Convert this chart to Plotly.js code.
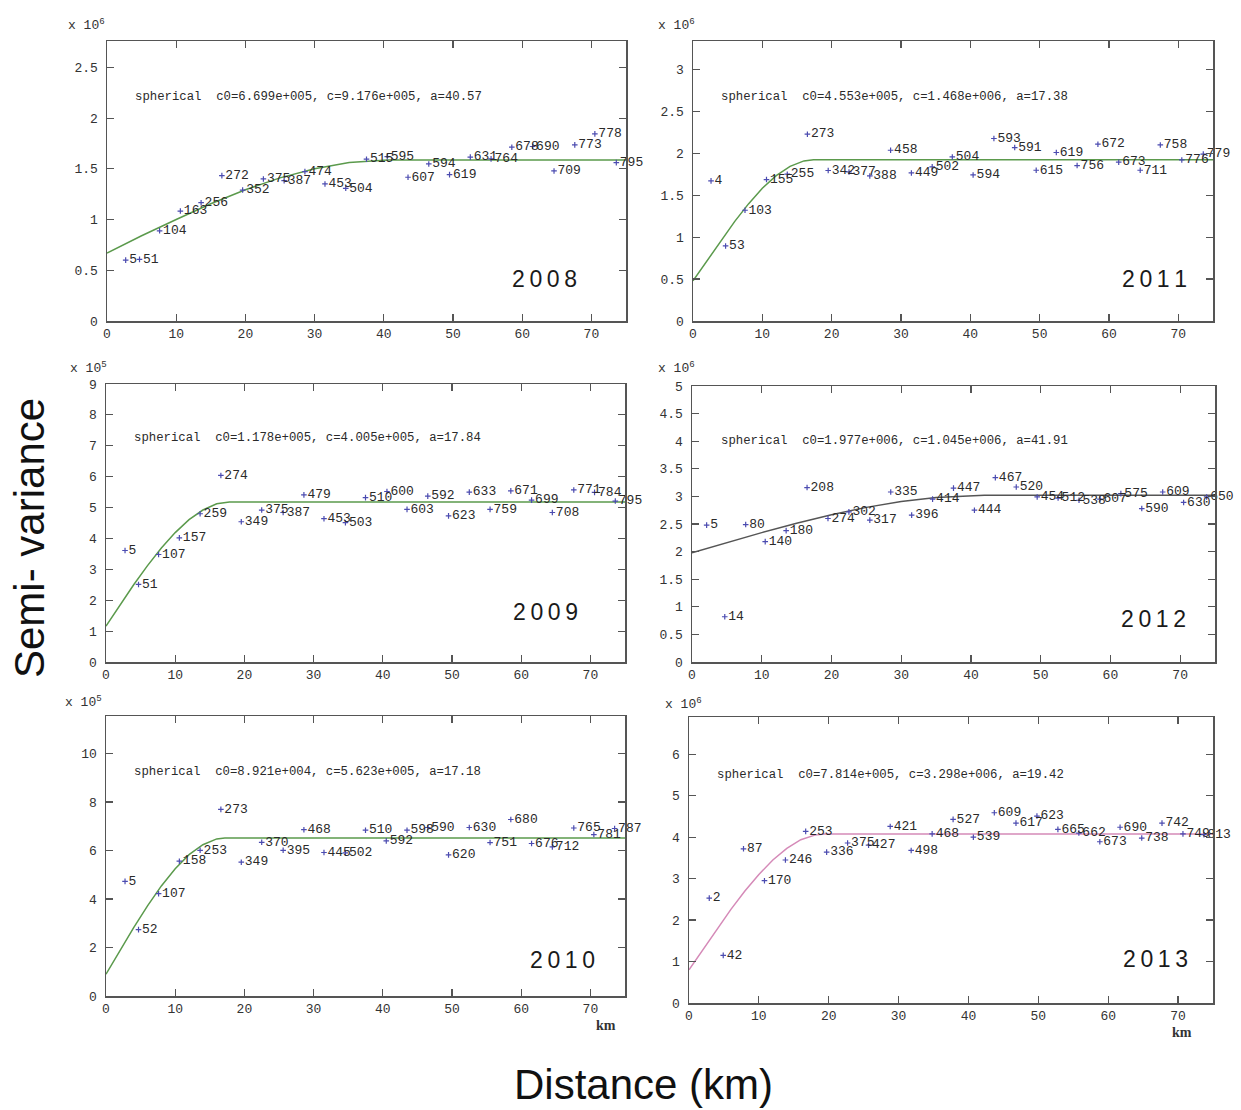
<!DOCTYPE html>
<html><head><meta charset="utf-8">
<script src="https://cdn.plot.ly/plotly-3.0.1.min.js"></script>
<style>html,body{margin:0;padding:0;background:#fff;} #chart{width:1241px;height:1110px;}</style>
</head><body><div id="chart"></div>
<script>
// ---------- DATA ----------
const years = ['2008','2011','2009','2012','2010','2013'];

const dist2008  = [2.7,4.7,7.6,10.6,13.6,16.6,19.6,22.6,25.6,28.6,31.5,34.5,37.5,40.5,43.5,46.5,49.5,52.5,55.5,58.5,61.5,64.6,67.6,70.5,73.6];
const gamma2008 = [0.60,0.607,0.889,1.084,1.166,1.433,1.291,1.40,1.383,1.472,1.351,1.308,1.595,1.62,1.417,1.548,1.443,1.615,1.598,1.713,1.72,1.479,1.736,1.845,1.561];
const pairs2008 = [5,51,104,163,256,272,352,375,387,474,453,504,515,595,607,594,619,631,764,678,690,709,773,778,795];
const fitX2008  = [0,5,10,15,20,25,30,35,40.57,75];
const fitY2008  = [0.67,0.84,1.0,1.156,1.294,1.411,1.50,1.563,1.588,1.588];

const dist2011  = [2.6,4.7,7.5,10.6,13.6,16.5,19.5,22.5,25.5,28.5,31.5,34.5,37.4,40.4,43.4,46.4,49.5,52.4,55.4,58.4,61.4,64.5,67.4,70.5,73.6];
const gamma2011 = [1.671,0.895,1.321,1.687,1.751,2.228,1.795,1.778,1.730,2.037,1.766,1.838,1.957,1.742,2.177,2.069,1.798,2.010,1.854,2.109,1.894,1.798,2.100,1.921,1.99];
const pairs2011 = [4,53,103,155,255,273,342,377,388,458,449,502,504,594,593,591,615,619,756,672,673,711,758,776,779];
const fitX2011  = [0,2,4,6,8,10,12,14,16,17.38,75];
const fitY2011  = [0.48,0.71,0.95,1.185,1.397,1.583,1.734,1.845,1.910,1.923,1.923];

const dist2009  = [2.75,4.7,7.6,10.6,13.6,16.6,19.55,22.5,25.6,28.6,31.5,34.6,37.5,40.6,43.5,46.5,49.5,52.5,55.5,58.5,61.5,64.5,67.6,70.6,73.6];
const gamma2009 = [3.61,2.51,3.48,4.02,4.80,6.04,4.54,4.92,4.84,5.41,4.64,4.51,5.32,5.52,4.94,5.37,4.73,5.50,4.94,5.54,5.24,4.84,5.57,5.49,5.21];
const pairs2009 = [5,51,107,157,259,274,349,375,387,479,453,503,510,600,603,592,623,633,759,671,699,708,771,784,795];
const fitX2009  = [0,2,4,6,8,10,12,14,16,17.84,75];
const fitY2009  = [1.16,1.85,2.50,3.12,3.69,4.19,4.61,4.92,5.12,5.18,5.18];

const dist2012  = [2.1,4.7,7.7,10.5,13.5,16.5,19.5,22.5,25.5,28.5,31.5,34.5,37.5,40.5,43.5,46.5,49.5,52.5,55.5,58.5,61.5,64.5,67.5,70.5,73.8];
const gamma2012 = [2.48,0.82,2.49,2.18,2.38,3.16,2.60,2.72,2.57,3.08,2.66,2.95,3.15,2.75,3.34,3.17,2.99,2.97,2.93,2.95,3.05,2.78,3.08,2.89,2.99];
const pairs2012 = [5,14,80,140,180,208,274,302,317,335,396,414,447,444,467,520,454,512,538,607,575,590,609,630,650];
const fitX2012  = [0,5,10,15,20,25,30,35,41.91,75];
const fitY2012  = [1.977,2.163,2.344,2.514,2.668,2.801,2.907,2.982,3.022,3.022];

const dist2010  = [2.75,4.7,7.6,10.6,13.6,16.6,19.55,22.5,25.6,28.6,31.5,34.6,37.5,40.5,43.5,46.5,49.5,52.5,55.5,58.5,61.5,64.5,67.6,70.5,73.5];
const gamma2010 = [4.73,2.74,4.22,5.56,6.01,7.70,5.52,6.34,6.01,6.86,5.92,5.90,6.84,6.40,6.84,6.95,5.82,6.95,6.33,7.28,6.29,6.15,6.93,6.66,6.91];
const pairs2010 = [5,52,107,158,253,273,349,370,395,468,445,502,510,592,598,590,620,630,751,680,676,712,765,781,787];
const fitX2010  = [0,2,4,6,8,10,12,14,16,17.18,75];
const fitY2010  = [0.90,1.87,2.82,3.72,4.54,5.25,5.83,6.24,6.48,6.52,6.52];

const dist2013  = [2.9,4.9,7.8,10.8,13.8,16.7,19.7,22.7,25.7,28.8,31.8,34.8,37.8,40.7,43.7,46.8,49.8,52.8,55.8,58.8,61.7,64.8,67.7,70.7,73.7];
const gamma2013 = [2.53,1.15,3.72,2.95,3.45,4.14,3.64,3.86,3.81,4.26,3.68,4.08,4.43,4.00,4.59,4.34,4.51,4.19,4.10,3.89,4.24,3.98,4.34,4.08,4.06];
const pairs2013 = [2,42,87,170,246,253,336,375,427,421,498,468,527,539,609,617,623,665,662,673,690,738,742,749,813];
const fitX2013  = [0,2,4,6,8,10,12,14,16,18,19.42,75];
const fitY2013  = [0.80,1.29,1.79,2.26,2.70,3.10,3.45,3.73,3.94,4.05,4.08,4.08];

const modelText = [
  'spherical  c0=6.699e+005, c=9.176e+005, a=40.57',
  'spherical  c0=4.553e+005, c=1.468e+006, a=17.38',
  'spherical  c0=1.178e+005, c=4.005e+005, a=17.84',
  'spherical  c0=1.977e+006, c=1.045e+006, a=41.91',
  'spherical  c0=8.921e+004, c=5.623e+005, a=17.18',
  'spherical  c0=7.814e+005, c=3.298e+006, a=19.42'
];
const exponents = [6, 6, 5, 6, 5, 6];
const yMax  = [2.76, 3.34, 9, 5, 11.55, 6.9];
const yStep = [0.5, 0.5, 1, 0.5, 2, 1];

// ---------- LAYOUT GEOMETRY (pixels) ----------
const W = 1241, H = 1110;
const boxes = [ // [left, right, top, bottom]
  [107, 626, 41, 321],
  [693, 1213, 41, 321],
  [106, 625, 384, 662],
  [692, 1215, 386, 662],
  [106, 625, 716, 996],
  [689, 1213, 717, 1003]
];
const modelPos = [[133,97],[719,97],[132,438],[719,441],[132,772],[715,775]];
const yearPos  = [[510,279],[1120,279],[511,612],[1119,619],[528,960],[1121,959]];
const expPos   = [[66,24],[656,24],[68,368],[656,368],[63,701],[663,703]];
const lineColors = ['#5b9a4c','#5b9a4c','#5b9a4c','#555555','#5b9a4c','#d58ab8'];

const series = [
  [dist2008, gamma2008, pairs2008, fitX2008, fitY2008],
  [dist2011, gamma2011, pairs2011, fitX2011, fitY2011],
  [dist2009, gamma2009, pairs2009, fitX2009, fitY2009],
  [dist2012, gamma2012, pairs2012, fitX2012, fitY2012],
  [dist2010, gamma2010, pairs2010, fitX2010, fitY2010],
  [dist2013, gamma2013, pairs2013, fitX2013, fitY2013]
];

const MONO = 'Liberation Mono, DejaVu Sans Mono, monospace';
const SANS = 'Liberation Sans, Arial, sans-serif';
const px = x => x / W;
const py = y => 1 - y / H;

const traces = [];
const layout = {
  width: W, height: H,
  margin: {l:0, r:0, t:0, b:0},
  paper_bgcolor: '#ffffff', plot_bgcolor: '#ffffff',
  showlegend: false,
  annotations: []
};

series.forEach((s, i) => {
  const n = i + 1;
  const xa = n === 1 ? 'x' : 'x' + n;
  const ya = n === 1 ? 'y' : 'y' + n;
  const b = boxes[i];
  const common = {
    ticks: 'inside', ticklen: 7, tickwidth: 1.2, tickcolor: '#555',
    showline: true, linecolor: '#555', linewidth: 1.5, mirror: 'ticks',
    showgrid: false, zeroline: false,
    tickfont: {family: MONO, size: 13, color: '#333'}
  };
  layout['xaxis' + (n === 1 ? '' : n)] = Object.assign({}, common, {
    domain: [px(b[0]), px(b[1])], range: [0, 75], tick0: 0, dtick: 10,
    anchor: ya, ticklabelstandoff: 0
  });
  layout['yaxis' + (n === 1 ? '' : n)] = Object.assign({}, common, {
    domain: [py(b[3]), py(b[2])], range: [0, yMax[i]], tick0: 0, dtick: yStep[i],
    anchor: xa, ticklabelstandoff: 5
  });

  traces.push({
    type: 'scatter', mode: 'lines', x: s[3], y: s[4], xaxis: xa, yaxis: ya,
    line: {color: lineColors[i], width: 1.5}, hoverinfo: 'skip'
  });
  traces.push({
    type: 'scatter', mode: 'markers+text', x: s[0], y: s[1], text: s[2].map(String),
    textposition: 'middle right', cliponaxis: false,
    textfont: {family: MONO, size: 13, color: '#2a2a2a'},
    marker: {symbol: 'cross-thin', size: 4, color: '#4b4bb0', line: {color: '#4b4bb0', width: 1.2}},
    xaxis: xa, yaxis: ya
  });

  layout.annotations.push({
    xref: 'paper', yref: 'paper', x: px(modelPos[i][0]), y: py(modelPos[i][1]),
    xanchor: 'left', yanchor: 'middle', showarrow: false,
    text: modelText[i].replace(/ {2}/g, '&nbsp;&nbsp;'),
    font: {family: MONO, size: 12.3, color: '#2a2a2a'}
  });
  layout.annotations.push({
    xref: 'paper', yref: 'paper', x: px(yearPos[i][0]), y: py(yearPos[i][1]),
    xanchor: 'left', yanchor: 'middle', showarrow: false,
    text: years[i].split('').join('\u2009'),
    font: {family: SANS, size: 23, color: '#1a1a1a'}
  });
  layout.annotations.push({
    xref: 'paper', yref: 'paper', x: px(expPos[i][0]), y: py(expPos[i][1]),
    xanchor: 'left', yanchor: 'middle', showarrow: false,
    text: 'x 10<sup>' + exponents[i] + '</sup>',
    font: {family: MONO, size: 13, color: '#333'}
  });
});

// km labels on bottom panels
layout.annotations.push({xref:'paper', yref:'paper', x: px(606), y: py(1025), xanchor:'center', yanchor:'middle',
  showarrow:false, text:'<b>km</b>', font:{family: 'Liberation Serif, serif', size: 14, color:'#333'}});
layout.annotations.push({xref:'paper', yref:'paper', x: px(1182), y: py(1032), xanchor:'center', yanchor:'middle',
  showarrow:false, text:'<b>km</b>', font:{family: 'Liberation Serif, serif', size: 14, color:'#333'}});
// Global axis titles
layout.annotations.push({xref:'paper', yref:'paper', x: px(30), y: py(538), xanchor:'center', yanchor:'middle',
  showarrow:false, textangle: -90, text:'Semi- variance', font:{family: SANS, size: 42, color:'#111'}});
layout.annotations.push({xref:'paper', yref:'paper', x: px(643), y: py(1084), xanchor:'center', yanchor:'middle',
  showarrow:false, text:'Distance (km)', font:{family: SANS, size: 42, color:'#111'}});

Plotly.newPlot('chart', traces, layout, {displayModeBar: false, staticPlot: true});
</script>
</body></html>
